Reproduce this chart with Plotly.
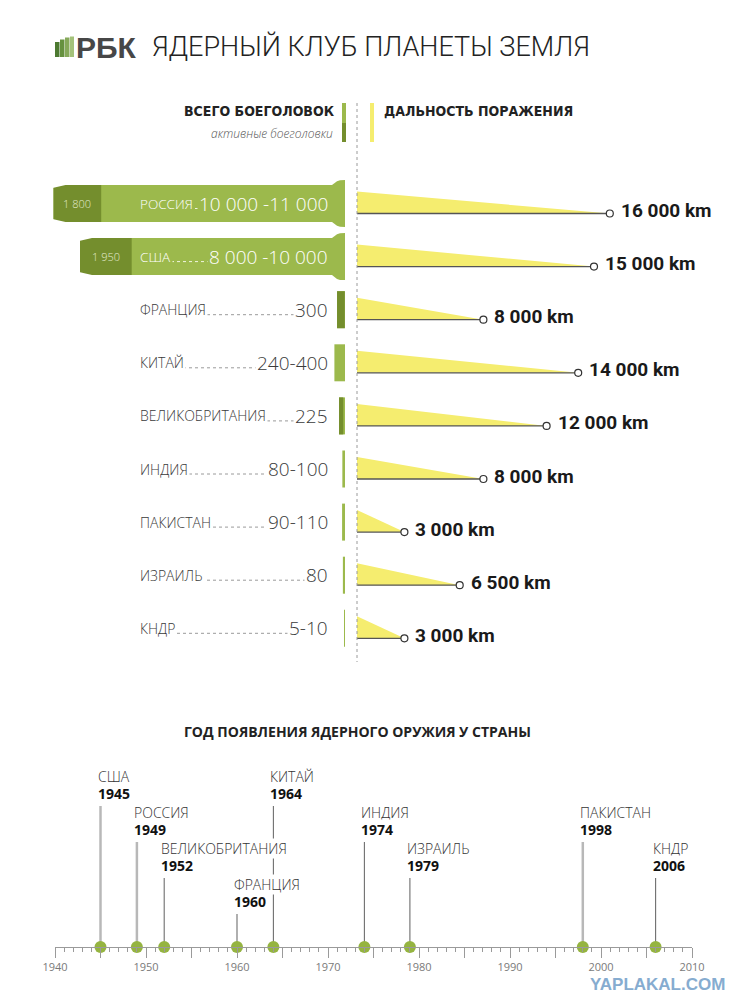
import plotly.graph_objects as go

# ---------------- DATA ----------------
countries = ["РОССИЯ", "США", "ФРАНЦИЯ", "КИТАЙ", "ВЕЛИКОБРИТАНИЯ",
             "ИНДИЯ", "ПАКИСТАН", "ИЗРАИЛЬ", "КНДР"]
warheads_min = [10000, 8000, 300, 240, 225, 80, 90, 80, 5]
warheads_max = [11000, 10000, 300, 400, 225, 100, 110, 80, 10]
active_warheads = [1800, 1950, 290, 0, 160, 0, 0, 0, 0]
warhead_labels = ["10 000 -11 000", "8 000 -10 000", "300", "240-400", "225",
                  "80-100", "90-110", "80", "5-10"]
active_labels = ["1 800", "1 950", "", "", "", "", "", "", ""]
range_km = [16000, 15000, 8000, 14000, 12000, 8000, 3000, 6500, 3000]
range_labels = ["16 000 km", "15 000 km", "8 000 km", "14 000 km", "12 000 km",
                "8 000 km", "3 000 km", "6 500 km", "3 000 km"]

tl_countries = ["США", "РОССИЯ", "ВЕЛИКОБРИТАНИЯ", "ФРАНЦИЯ", "КИТАЙ",
                "ИНДИЯ", "ИЗРАИЛЬ", "ПАКИСТАН", "КНДР"]
tl_years = [1945, 1949, 1952, 1960, 1964, 1974, 1979, 1998, 2006]
tl_level = [0, 1, 2, 3, 0, 1, 2, 1, 2]
axis_years = list(range(1940, 2011, 5))
axis_labels = [str(y) if y % 10 == 0 else "" for y in axis_years]

# ---------------- STYLE / LAYOUT CONSTANTS ----------------
W, H = 750, 1000
OFF = 8                               # page body margin
LIGHT = "#9cb94c"
DARK = "#748e2d"
YELLOW = "#f5ed6f"
DOT = "#95b440"
TXT = "#3a3a3a"
LIGHTF = "Open Sans"
COND = "DejaVu Sans Condensed, Roboto, sans-serif"
NUMF = "Roboto"

ROW0, ROWSTEP = 203.5, 53.1          # row centre (page px), row spacing
BAR_RIGHT, WH_PX = 345.0, 0.0265     # page px of zero warheads, px per warhead
RANGE_LEFT, KM_PX = 357.0, 0.0158    # page px of zero km, px per km
TL_LEFT, TL_RIGHT, TL_AXIS, TL_TOP = 55.0, 692.0, 947.0, 700.0
tl_line_style = [("#b8b8b8", 2.5), ("#b8b8b8", 2.5), ("#6e6e6e", 1.1), ("#6e6e6e", 1.1),
                 ("#6e6e6e", 1.1), ("#6e6e6e", 1.1), ("#6e6e6e", 1.1), ("#b8b8b8", 2.5),
                 ("#6e6e6e", 1.1)]


def px(p):            # page px -> paper x
    return (p - OFF) / W


def py(p):            # page px -> paper y
    return 1 - (p - OFF) / H


def rows(p):          # pixel offset -> row units
    return p / ROWSTEP


def wh(p):            # pixel length -> warheads
    return p / WH_PX


fig = go.Figure()
n = len(countries)
idx = list(range(n))

# ---------------- warhead bars ----------------
bar_w = rows(37)
fig.add_trace(go.Bar(orientation="h", y=idx, x=warheads_max, width=bar_w,
                     marker=dict(color=LIGHT, line=dict(width=0)),
                     xaxis="x", yaxis="y", hoverinfo="skip"))
fig.add_trace(go.Bar(orientation="h", y=idx, x=active_warheads,
                     base=[m - a for m, a in zip(warheads_max, active_warheads)],
                     width=bar_w, marker=dict(color=DARK, line=dict(width=0)),
                     xaxis="x", yaxis="y", hoverinfo="skip"))

# bullet caps and chamfers for the large arsenals
cap_profile = [(0, -23.5), (5, -23.3), (8, -22.3), (10.5, -20.5), (13, -18.5),
               (13, 18.5), (10.5, 20.5), (8, 22.3), (5, 23.3), (0, 23.5), (0, -23.5)]
for i, (m, a) in enumerate(zip(warheads_max, active_warheads)):
    if m < 1000:
        continue
    fig.add_trace(go.Scatter(x=[wh(cx) for cx, cy in cap_profile],
                             y=[i + rows(cy) for cx, cy in cap_profile],
                             fill="toself", fillcolor=LIGHT, mode="lines",
                             line=dict(width=0, color=LIGHT), xaxis="x", yaxis="y",
                             hoverinfo="skip", showlegend=False))
    for s in (-1, 1):
        pts = [(1, 20.5), (-12, 20.5), (-12, 18.5), (0, 15.5), (1, 15.5), (1, 20.5)]
        fig.add_trace(go.Scatter(x=[m + wh(cx) for cx, cy in pts],
                                 y=[i + s * rows(cy) for cx, cy in pts],
                                 fill="toself", fillcolor="white", mode="lines",
                                 line=dict(width=0, color="white"), xaxis="x", yaxis="y",
                                 hoverinfo="skip", showlegend=False))

# ---------------- range triangles ----------------
for i, r in enumerate(range_km):
    top, base = i - rows(12), i + rows(10)
    fig.add_trace(go.Scatter(x=[0, 0, r, 0], y=[top, base, base, top], fill="toself",
                             fillcolor=YELLOW, mode="lines", line=dict(width=0, color=YELLOW),
                             xaxis="x2", yaxis="y", hoverinfo="skip", showlegend=False))
    fig.add_trace(go.Scatter(x=[0, r], y=[base, base], mode="lines",
                             line=dict(color="#555555", width=1.3),
                             xaxis="x2", yaxis="y", hoverinfo="skip", showlegend=False))
    fig.add_trace(go.Scatter(x=[r], y=[base], mode="markers",
                             marker=dict(size=7, color="white", line=dict(color="#333", width=1.2)),
                             xaxis="x2", yaxis="y", cliponaxis=False,
                             hoverinfo="skip", showlegend=False))

annotations = []
shapes = []

for i in idx:
    big = warheads_max[i] >= 1000
    fg = "white" if big else TXT
    bg = LIGHT if big else "white"
    # dotted leader, masked by the text backgrounds
    shapes.append(dict(type="line", xref="paper", yref="y", x0=px(141), x1=px(327),
                       y0=i + rows(5), y1=i + rows(5),
                       line=dict(color="#f0f5e0" if big else "#9a9a9a", width=1, dash="dot")))
    annotations.append(dict(text=countries[i], xref="paper", yref="y", x=px(138), y=i,
                            xanchor="left", yanchor="middle", showarrow=False,
                            bgcolor=bg, borderpad=1,
                            font=dict(family=LIGHTF, size=13.5 if big else 14, color=fg,
                                      weight=300)))
    annotations.append(dict(text=warhead_labels[i], xref="paper", yref="y", x=px(330), y=i,
                            xanchor="right", yanchor="middle", showarrow=False,
                            bgcolor=bg, borderpad=1,
                            font=dict(family=LIGHTF, size=19, color=fg, weight=300)))
    if active_labels[i]:
        annotations.append(dict(text=active_labels[i], xref="x", yref="y",
                                x=warheads_max[i] - active_warheads[i] / 2, y=i,
                                showarrow=False,
                                font=dict(family=LIGHTF, size=11, color="#e3ebcc", weight=300)))
    annotations.append(dict(text=range_labels[i], xref="x2", yref="y", x=range_km[i],
                            y=i + rows(10), xanchor="left", yanchor="middle",
                            xshift=9, yshift=3, showarrow=False,
                            font=dict(family=NUMF, size=19, color="#1a1a1a", weight="bold")))

# ---------------- timeline ----------------
for k, (c, yr, lv) in enumerate(zip(tl_countries, tl_years, tl_level)):
    name_px = 776 + 36 * lv
    col, lw = tl_line_style[k]
    fig.add_trace(go.Scatter(x=[yr, yr], y=[0, TL_AXIS - (name_px + 30)], mode="lines",
                             line=dict(color=col, width=lw), xaxis="x3", yaxis="y3",
                             hoverinfo="skip", showlegend=False))
    annotations.append(dict(text=c, xref="x3", yref="y3", x=yr, y=TL_AXIS - name_px,
                            xanchor="left", yanchor="middle", xshift=-4, showarrow=False,
                            bgcolor="white", borderpad=0,
                            font=dict(family=LIGHTF, size=14, color="#333", weight=300)))
    annotations.append(dict(text=str(yr), xref="x3", yref="y3", x=yr,
                            y=TL_AXIS - name_px - 17, xanchor="left", yanchor="middle",
                            xshift=-4, showarrow=False, bgcolor="white", borderpad=0,
                            font=dict(family=LIGHTF, size=14, color="#111", weight="bold")))

fig.add_trace(go.Scatter(x=tl_years, y=[0] * len(tl_years), mode="markers",
                         marker=dict(size=12, color=DOT), xaxis="x3", yaxis="y3",
                         cliponaxis=False, hoverinfo="skip", showlegend=False))

# ---------------- header texts ----------------
annotations += [
    dict(text="РБК", xref="paper", yref="paper", x=px(74), y=py(47), xanchor="left",
         yanchor="middle", showarrow=False,
         font=dict(family="Liberation Sans", size=30, color="#474747", weight="bold")),
    dict(text="ЯДЕРНЫЙ КЛУБ ПЛАНЕТЫ ЗЕМЛЯ", xref="paper", yref="paper", x=px(150),
         y=py(47), xanchor="left", yanchor="middle", showarrow=False,
         font=dict(family="Roboto", size=27, color="#222", weight=300)),
    dict(text="ВСЕГО БОЕГОЛОВОК", xref="paper", yref="paper", x=px(337), y=py(111),
         xanchor="right", yanchor="middle", showarrow=False,
         font=dict(family=COND, size=14, color="#222", weight="bold")),
    dict(text="активные боеголовки", xref="paper", yref="paper", x=px(335), y=py(133),
         xanchor="right", yanchor="middle", showarrow=False,
         font=dict(family=LIGHTF, size=12, color="#555", weight=300, style="italic")),
    dict(text="ДАЛЬНОСТЬ ПОРАЖЕНИЯ", xref="paper", yref="paper", x=px(382), y=py(111),
         xanchor="left", yanchor="middle", showarrow=False,
         font=dict(family=COND, size=14, color="#222", weight="bold")),
    dict(text="ГОД ПОЯВЛЕНИЯ ЯДЕРНОГО ОРУЖИЯ У СТРАНЫ", xref="paper", yref="paper",
         x=px(357), y=py(731), xanchor="center", yanchor="middle", showarrow=False,
         font=dict(family=LIGHTF, size=14, color="#222", weight="bold")),
    dict(text="YAPLAKAL.COM", xref="paper", yref="paper", x=px(657), y=py(984),
         xanchor="center", yanchor="middle", showarrow=False,
         font=dict(family="Liberation Sans", size=17, color="#86acd0", weight="bold")),
]

# header decorations
shapes += [
    dict(type="rect", xref="paper", yref="paper", x0=px(342), x1=px(346), y0=py(103),
         y1=py(123), fillcolor=LIGHT, line=dict(width=0)),
    dict(type="rect", xref="paper", yref="paper", x0=px(342), x1=px(346), y0=py(123),
         y1=py(142), fillcolor=DARK, line=dict(width=0)),
    dict(type="rect", xref="paper", yref="paper", x0=px(370), x1=px(374), y0=py(103),
         y1=py(142), fillcolor=YELLOW, line=dict(width=0)),
    dict(type="line", xref="paper", yref="paper", x0=px(357), x1=px(357), y0=py(103),
         y1=py(662), line=dict(color="#9a9a9a", width=1, dash="dot")),
]
# logo stripes
logo = [(55, 59.5, 42, "#4d7a31"), (60, 64.5, 39.5, "#66913f"),
        (65, 69.5, 37.5, "#86a95a"), (70, 74, 36.5, "#a4c27a")]
for x0, x1, y0, col in logo:
    shapes.append(dict(type="rect", xref="paper", yref="paper", x0=px(x0), x1=px(x1),
                       y0=py(57), y1=py(y0), fillcolor=col, line=dict(width=0)))

row_origin = ROW0 - OFF
fig.update_layout(
    width=W, height=H, autosize=False,
    margin=dict(l=0, r=0, t=0, b=0, pad=0, autoexpand=False),
    paper_bgcolor="white", plot_bgcolor="rgba(0,0,0,0)",
    showlegend=False, barmode="overlay",
    annotations=annotations, shapes=shapes,
    xaxis=dict(domain=[0, px(BAR_RIGHT)], range=[(BAR_RIGHT - OFF) / WH_PX, 0],
               visible=False, anchor="y", fixedrange=True, automargin=False),
    xaxis2=dict(domain=[px(RANGE_LEFT), 1], range=[0, (W - (RANGE_LEFT - OFF)) / KM_PX],
                visible=False, anchor="y", fixedrange=True, automargin=False),
    yaxis=dict(domain=[0, 1], range=[(H - row_origin) / ROWSTEP, -row_origin / ROWSTEP],
               visible=False, fixedrange=True, automargin=False),
    xaxis3=dict(domain=[px(TL_LEFT), px(TL_RIGHT)], range=[1940, 2010], anchor="y3",
                tickmode="array", tickvals=axis_years, ticktext=axis_labels,
                ticks="outside", ticklen=10, tickwidth=1, tickcolor="#9a9a9a",
                showline=True, linecolor="#9a9a9a", linewidth=1,
                showgrid=False, zeroline=False, automargin=False,
                minor=dict(tickmode="linear", tick0=1940, dtick=1, ticks="outside",
                           ticklen=4, tickcolor="#9a9a9a", showgrid=False),
                tickfont=dict(family=LIGHTF, size=11, color="#7a7a7a"), fixedrange=True),
    yaxis3=dict(domain=[py(TL_AXIS), py(TL_TOP)], range=[0, TL_AXIS - TL_TOP],
                visible=False, anchor="x3", fixedrange=True, automargin=False),
)

fig.write_html("out.html")
